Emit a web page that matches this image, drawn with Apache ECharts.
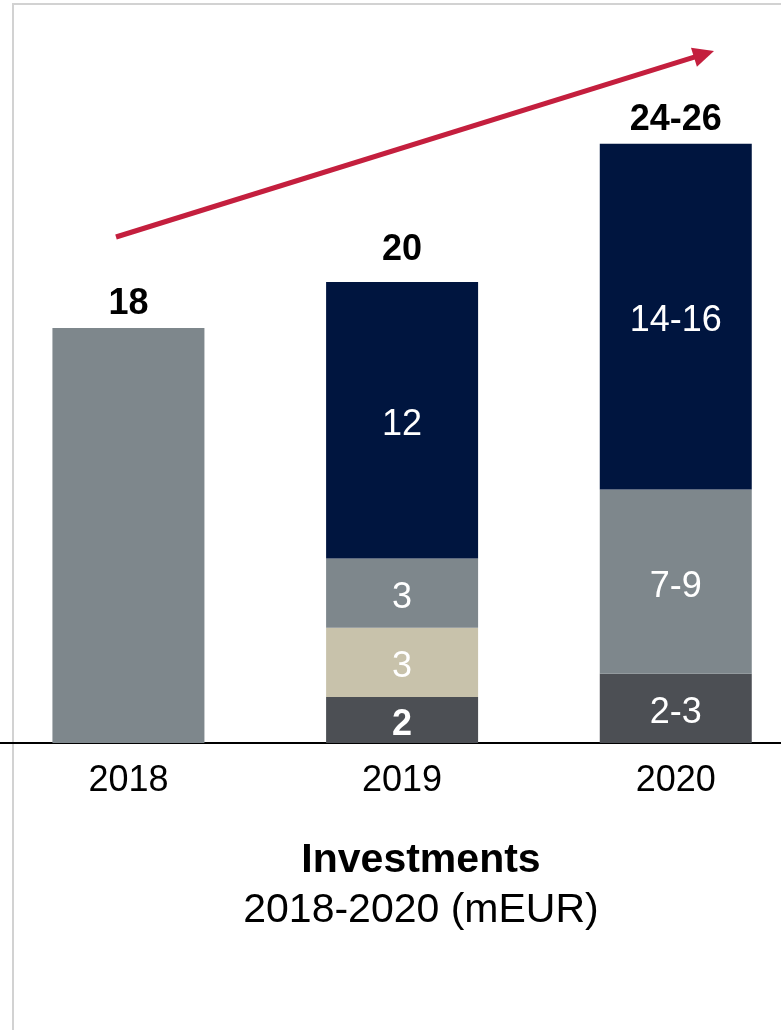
<!DOCTYPE html>
<html>
<head>
<meta charset="utf-8">
<title>Investments 2018-2020</title>
<script src="https://cdn.jsdelivr.net/npm/echarts@6/dist/echarts.min.js"></script>
<style>
  html, body { margin: 0; padding: 0; background: #ffffff; }
  #chart { width: 781px; height: 1030px; }
</style>
</head>
<body>
<div id="chart"></div>
<script>
// Investments per year, mEUR, stacked by component
const categories = ['2018', '2019', '2020'];

const darkValues  = [0, 2, 3];
const darkLabels  = ['', '2', '2-3'];

const beigeValues = [0, 3, 0];
const beigeLabels = ['', '3', ''];

const grayValues  = [18, 3, 8];
const grayLabels  = ['', '3', '7-9'];

const navyValues  = [0, 12, 15];
const navyLabels  = ['', '12', '14-16'];

const totalLabels = ['18', '20', '24-26'];

const FONT = "'Liberation Sans', Arial, Helvetica, sans-serif";

const chart = echarts.init(document.getElementById('chart'), null, { renderer: 'canvas' });

function insideLabel(labels) {
  return {
    show: true,
    position: 'inside',
    offset: [0, 5],
    color: '#ffffff',
    fontFamily: FONT,
    fontSize: 36,
    formatter: p => labels[p.dataIndex]
  };
}

function stackSeries(name, values, labels, color, boldIndex) {
  return {
    name: name,
    type: 'bar',
    stack: 'total',
    barWidth: 152,
    itemStyle: { color: color },
    label: insideLabel(labels),
    data: values.map((v, i) => ({
      value: v,
      label: { fontWeight: i === boldIndex ? 'bold' : 'normal' }
    }))
  };
}

// Arrow geometry (decorative trend arrow)
const arrowStart = [116, 237];
const arrowTip = [714, 51];
const dx = arrowTip[0] - arrowStart[0], dy = arrowTip[1] - arrowStart[1];
const len = Math.sqrt(dx * dx + dy * dy);
const ux = dx / len, uy = dy / len;
const headLen = 21, headHalf = 10;
const baseX = arrowTip[0] - ux * headLen, baseY = arrowTip[1] - uy * headLen;

const option = {
  animation: false,
  backgroundColor: '#ffffff',
  grid: {
    left: -8.4, width: 821, top: 51.5, height: 691.5,
    containLabel: false,
    outerBoundsMode: 'none'
  },
  xAxis: {
    type: 'category',
    data: categories,
    axisTick: { show: false },
    axisLine: { show: true, lineStyle: { color: '#000000', width: 2 } },
    axisLabel: { color: '#000000', fontFamily: FONT, fontSize: 36, margin: 20 },
    splitLine: { show: false }
  },
  yAxis: {
    type: 'value',
    min: 0,
    max: 30,
    show: false,
    splitLine: { show: false }
  },
  series: [
    stackSeries('Other', darkValues, darkLabels, '#4c4f54', 1),
    stackSeries('Component B', beigeValues, beigeLabels, '#c8c2ab', -1),
    stackSeries('Component A', grayValues, grayLabels, '#7e878c', -1),
    stackSeries('Main', navyValues, navyLabels, '#00153f', -1),
    {
      name: 'Total',
      type: 'bar',
      stack: 'total',
      barWidth: 152,
      itemStyle: { color: 'rgba(0,0,0,0)' },
      label: {
        show: true,
        position: 'top',
        distance: 6,
        color: '#000000',
        fontFamily: FONT,
        fontSize: 36,
        fontWeight: 'bold',
        formatter: p => totalLabels[p.dataIndex]
      },
      // the 2019 total sits a little higher above its bar
      data: categories.map((c, i) => ({ value: 0, label: { distance: i === 1 ? 14 : 6 } }))
    }
  ],
  graphic: [
    {
      type: 'polyline',
      silent: true,
      shape: { points: [[13, 1030], [13, 4], [781, 4]] },
      style: { stroke: '#d2d2d2', lineWidth: 2, fill: null }
    },
    {
      type: 'line',
      silent: true,
      shape: { x1: arrowStart[0], y1: arrowStart[1], x2: baseX + ux * 2, y2: baseY + uy * 2 },
      style: { stroke: '#c41f3e', lineWidth: 5 }
    },
    {
      type: 'polygon',
      silent: true,
      shape: {
        points: [
          arrowTip,
          [baseX - uy * headHalf, baseY + ux * headHalf],
          [baseX + uy * headHalf, baseY - ux * headHalf]
        ]
      },
      style: { fill: '#c41f3e' }
    },
    {
      type: 'text',
      silent: true,
      x: 421,
      y: 861,
      style: {
        text: 'Investments',
        fill: '#000000',
        font: "bold 41px 'Liberation Sans', Arial, sans-serif",
        textAlign: 'center',
        textVerticalAlign: 'middle'
      }
    },
    {
      type: 'text',
      silent: true,
      x: 421,
      y: 911,
      style: {
        text: '2018-2020 (mEUR)',
        fill: '#000000',
        font: "41px 'Liberation Sans', Arial, sans-serif",
        textAlign: 'center',
        textVerticalAlign: 'middle'
      }
    }
  ]
};

chart.setOption(option);
</script>
</body>
</html>
